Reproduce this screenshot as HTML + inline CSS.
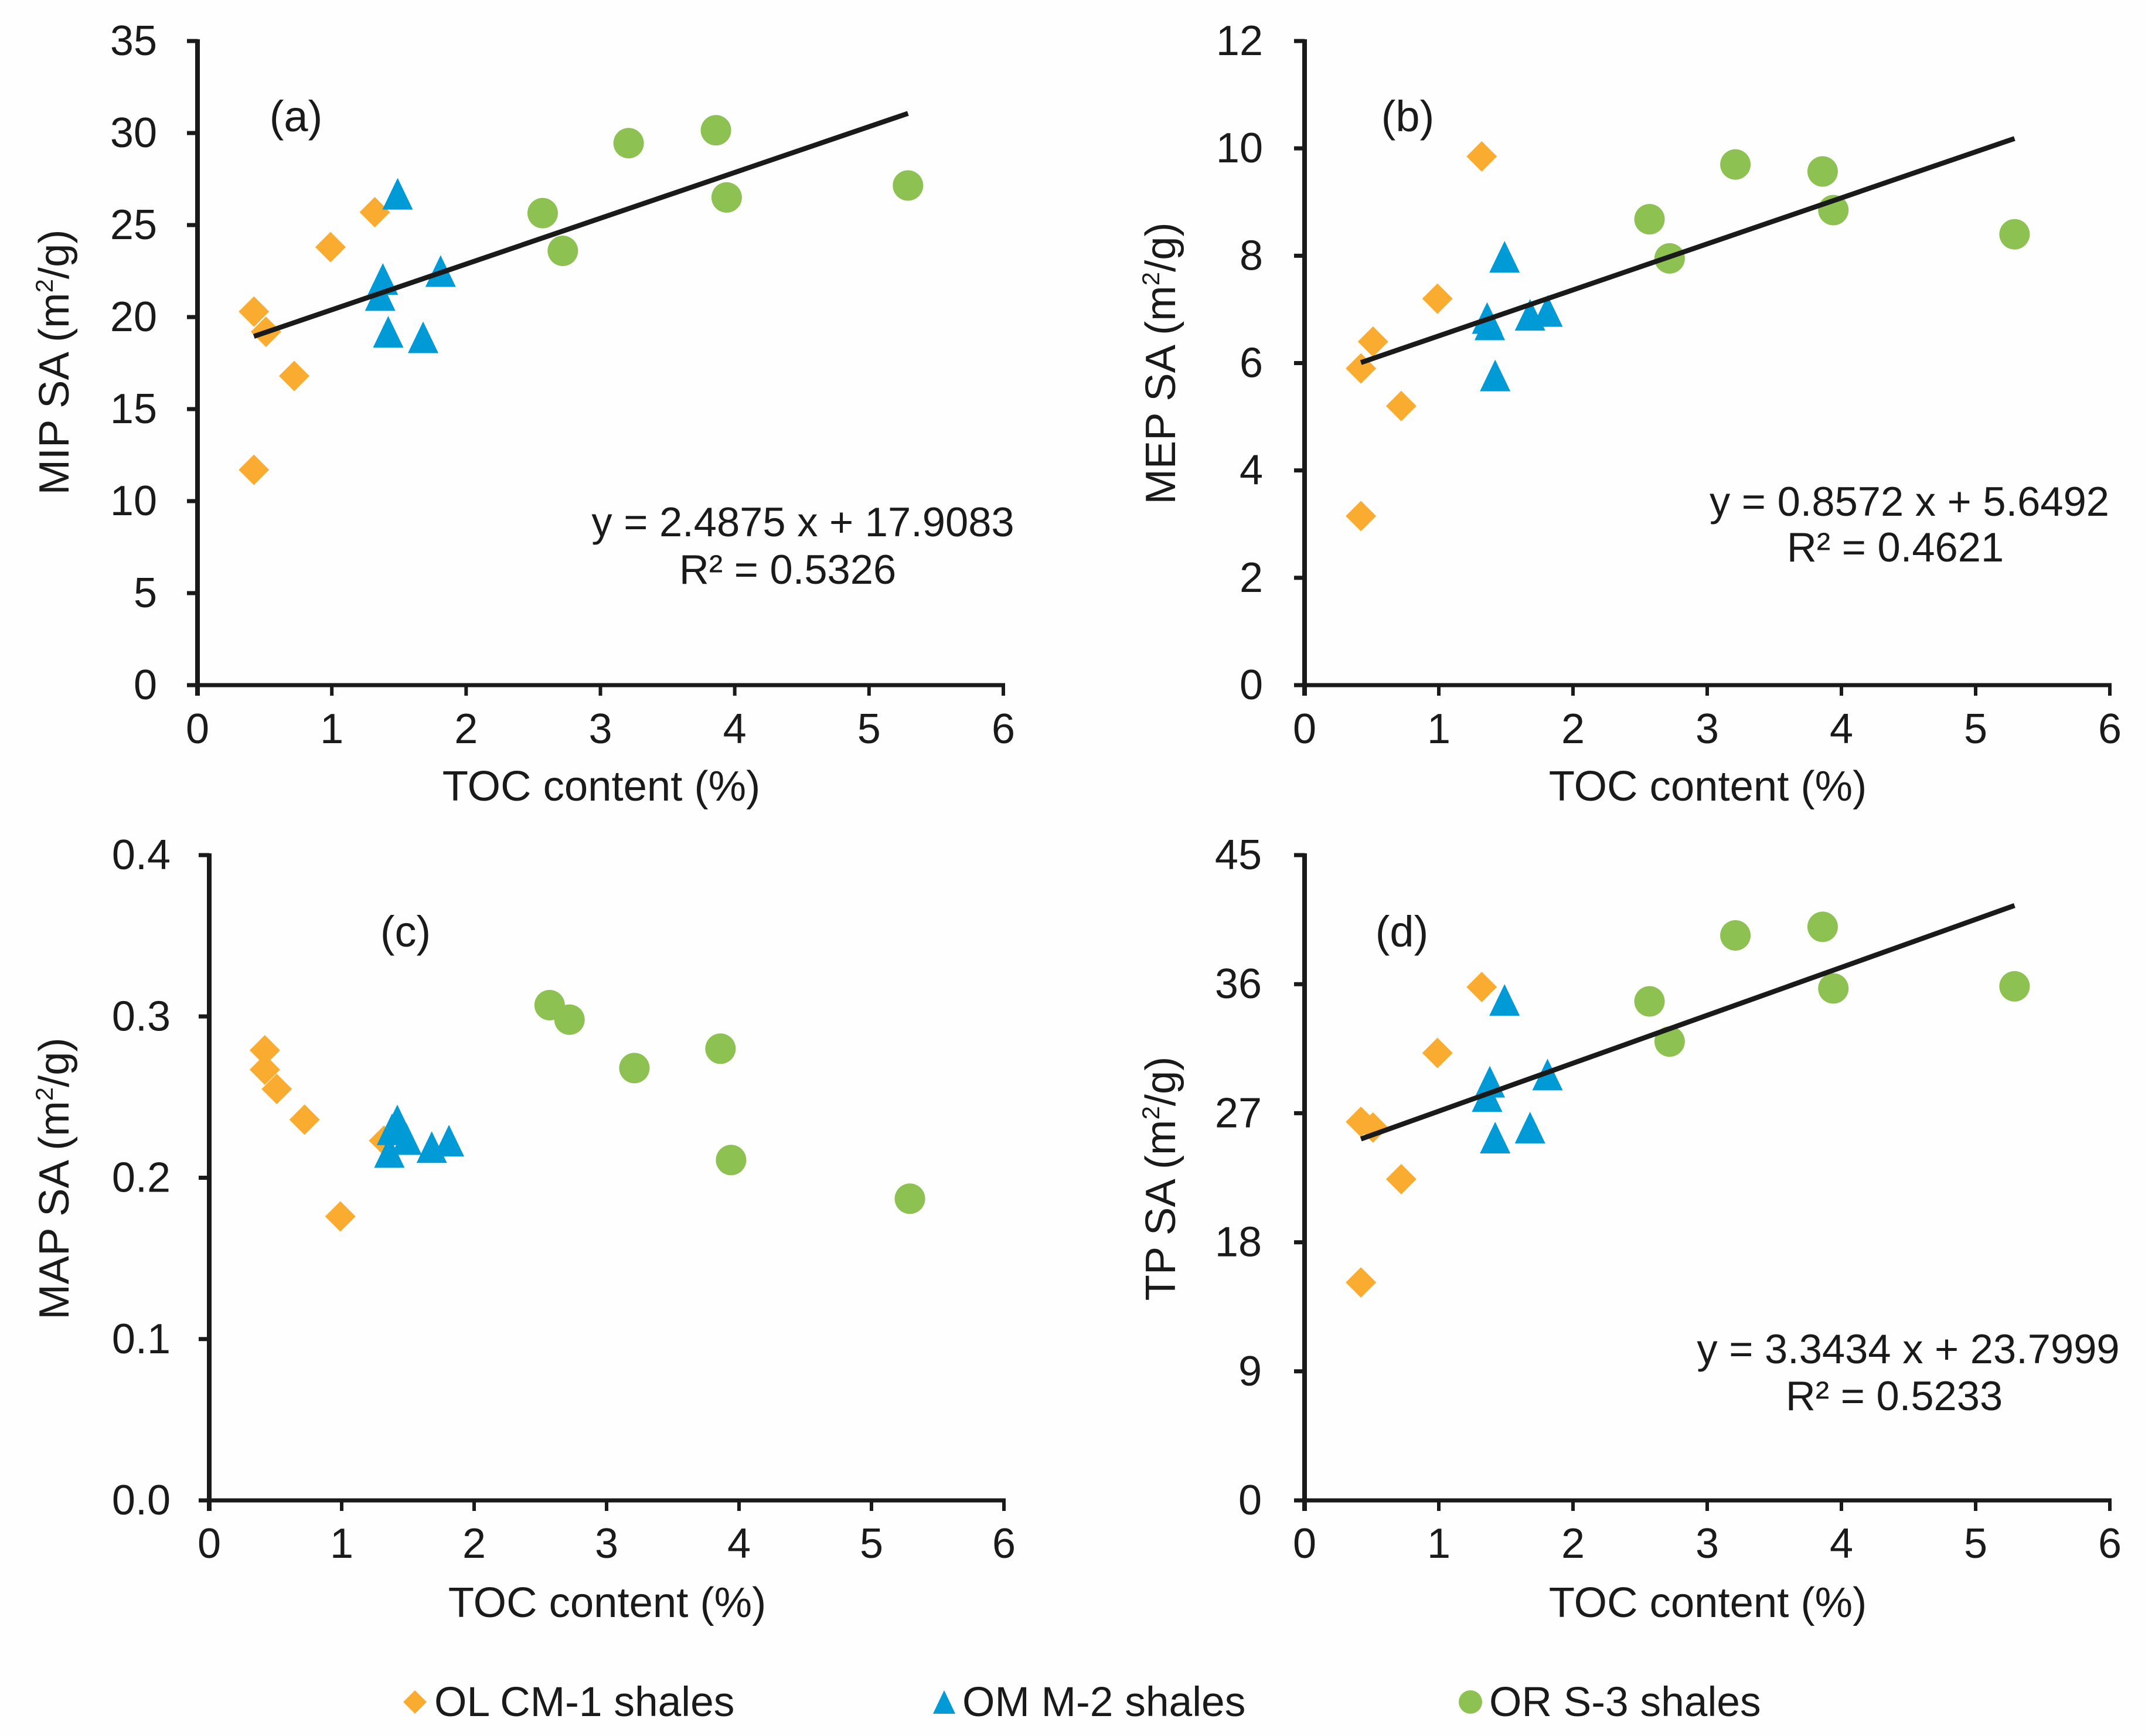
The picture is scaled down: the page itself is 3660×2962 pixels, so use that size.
<!DOCTYPE html>
<html lang="en">
<head>
<meta charset="utf-8">
<title>Surface area versus TOC content</title>
<style>
html,body{margin:0;padding:0;background:#fefefe;}
svg{display:block;}
text{font-family:"Liberation Sans",Arial,sans-serif;fill:#1a1a1a;font-size:70.5px;}
text.tick{font-size:72px;}
text.title{font-size:72.5px;}
text.letter{font-size:74px;}
text.legend{font-size:71.3px;}
</style>
</head>
<body>
<svg id="chart" xmlns="http://www.w3.org/2000/svg" width="3660" height="2962" viewBox="0 0 3660 2962">
<rect x="0" y="0" width="3660" height="2962" fill="#fefefe"/>
</svg>
<script>
// TOC values (%) shared by all panels
const tocOrange = [0.42, 0.42, 0.51, 0.72, 0.99, 1.32];
const tocBlue = [1.36, 1.38, 1.42, 1.49, 1.68, 1.81];
const tocGreen = [2.57, 2.72, 3.21, 3.86, 3.94, 5.29];

// Panel (a) MIP SA
const mipOrange = [20.3, 11.7, 19.2, 16.8, 23.8, 25.7];
const mipBlue = [21.2, 22.07, 19.2, 26.7, 18.9, 22.5];
const mipGreen = [25.65, 23.6, 29.45, 30.15, 26.5, 27.15];
const mipTicks = ['0', '5', '10', '15', '20', '25', '30', '35'];
const mipFit = [2.4875, 17.9083];

// Panel (b) MEP SA
const mepOrange = [5.9, 3.15, 6.4, 5.2, 7.2, 9.85];
const mepBlue = [6.84, 6.72, 5.77, 7.98, 6.9, 6.97];
const mepGreen = [8.68, 7.95, 9.7, 9.57, 8.85, 8.4];
const mepTicks = ['0', '2', '4', '6', '8', '10', '12'];
const mepFit = [0.8572, 5.6492];

// Panel (c) MAP SA
const mapOrange = [0.279, 0.267, 0.255, 0.236, 0.176, 0.223];
const mapBlue = [0.216, 0.23, 0.2355, 0.224, 0.219, 0.223];
const mapGreen = [0.307, 0.298, 0.268, 0.28, 0.211, 0.187];
const mapTicks = ['0.0', '0.1', '0.2', '0.3', '0.4'];

// Panel (d) TP SA
const tpOrange = [26.4, 15.2, 26, 22.4, 31.2, 35.8];
const tpBlue = [28.2, 29.2, 25.3, 34.9, 26, 29.7];
const tpGreen = [34.8, 32, 39.4, 40, 35.7, 35.85];
const tpTicks = ['0', '9', '18', '27', '36', '45'];
const tpFit = [3.3434, 23.7999];

const xTicks = ['0', '1', '2', '3', '4', '5', '6'];

const NS = 'http://www.w3.org/2000/svg';
const svg = document.getElementById('chart');
const ORANGE = '#f9ac2f', BLUE = '#009ad6', GREEN = '#8dc152', INK = '#1a1a1a';

function mk(tag, parent) {
  const el = document.createElementNS(NS, tag);
  parent.appendChild(el);
  return el;
}
function setAll(el, attrs) {
  for (const k in attrs) el.setAttribute(k, attrs[k]);
}
function addText(parent, str, x, y, anchor, cls) {
  const t = mk('text', parent);
  setAll(t, {x: x, y: y, 'text-anchor': anchor || 'middle'});
  if (cls) t.setAttribute('class', cls);
  t.textContent = str;
  return t;
}
function seg(parent, x1, y1, x2, y2, w) {
  const l = mk('line', parent);
  setAll(l, {x1: x1, y1: y1, x2: x2, y2: y2, stroke: INK, 'stroke-width': w});
  return l;
}
function diamond(parent, cx, cy, r) {
  const p = mk('polygon', parent);
  setAll(p, {points: [cx, cy - r, cx + r, cy, cx, cy + r, cx - r, cy].join(' '), fill: ORANGE});
  return p;
}
function triangle(parent, cx, cy, w, h) {
  const p = mk('polygon', parent);
  setAll(p, {points: [cx, cy - h / 2, cx + w / 2, cy + h / 2, cx - w / 2, cy + h / 2].join(' '), fill: BLUE});
  return p;
}
function circle(parent, cx, cy, r) {
  const c = mk('circle', parent);
  setAll(c, {cx: cx, cy: cy, r: r, fill: GREEN});
  return c;
}

function drawPanel(o) {
  const g = mk('g', svg);
  
  
  const yMax = o.yMax;
  const sx = v => o.x0 + (v / 6) * (o.x6 - o.x0);
  const sy = v => o.y0 - (v / yMax) * (o.y0 - o.yTop);

  // axes
  const yAxis = seg(g, o.x0, o.yTop - 3, o.x0, o.y0 + 18, 8);
  
  
  const xAxis = seg(g, o.x0 - 18, o.y0, o.x6 + 3, o.y0, 7);
  
  

  // y ticks
  o.yTicks.forEach(label => {
    const v = parseFloat(label);
    const tk = seg(g, o.x0 - 18, sy(v), o.x0, sy(v), 7);
    
    
    const tl = addText(g, label, o.yLabelEnd, sy(v) + 24, 'end', 'tick');
    
    
  });

  // x ticks
  xTicks.forEach(label => {
    const v = parseFloat(label);
    const tk = seg(g, sx(v), o.y0, sx(v), o.y0 + 18, 6);
    
    
    const tl = addText(g, label, sx(v), o.xLabelBase, 'middle', 'tick');
    
    
  });

  // x axis title
  const xt = addText(g, 'TOC content (%)', o.xTitleX, o.xTitleBase + 2, 'middle', 'title');
  
  

  // y axis title with superscript
  const yt = mk('text', g);
  setAll(yt, {transform: 'translate(' + o.yTitleX + ' ' + o.yTitleY + ') rotate(-90)', 'text-anchor': 'middle', x: 0, y: 0, 'class': 'title'});
  
  
  const a = mk('tspan', yt); a.textContent = o.yTitle + ' (m';
  const b = mk('tspan', yt); setAll(b, {dy: -27, 'font-size': 42}); b.textContent = '2';
  const c = mk('tspan', yt); setAll(c, {dy: 27}); c.textContent = '/g)';

  // panel letter
  const pl = addText(g, o.letter, o.letterX, o.letterBase + 1, 'middle', 'letter');
  
  

  // points
  tocOrange.forEach((x, i) => {
    const m = diamond(g, sx(x), sy(o.orange[i]), 26);
    
    
  });
  tocBlue.forEach((x, i) => {
    const m = triangle(g, sx(x), sy(o.blue[i]), 52, 54);
    
    
  });
  tocGreen.forEach((x, i) => {
    const m = circle(g, sx(x), sy(o.green[i]), 26);
    
    
  });

  // trend line and equation
  if (o.fit) {
    const x1 = tocOrange[0], x2 = tocGreen[5];
    const tl = seg(g, sx(x1), sy(o.fit[0] * x1 + o.fit[1]), sx(x2), sy(o.fit[0] * x2 + o.fit[1]), 8.5);
    
    
    const eq = addText(g, o.eq, o.eqX, o.eqBase);
    
    
    const r2 = addText(g, o.r2, o.r2X, o.r2Base);
    
    
  }
}

drawPanel({name: 'panel-a-mip', x0: 337, x6: 1712, y0: 1169, yTop: 70, yMax: 35, yTicks: mipTicks,
  orange: mipOrange, blue: mipBlue, green: mipGreen, fit: mipFit,
  yLabelEnd: 268, xLabelBase: 1268, xTitleX: 1026, xTitleBase: 1364,
  yTitle: 'MIP SA', yTitleX: 117, yTitleY: 618, letter: '(a)', letterX: 505, letterBase: 223,
  eq: 'y = 2.4875 x + 17.9083', eqX: 1370, eqBase: 915, r2: 'R² = 0.5326', r2X: 1344, r2Base: 996});

drawPanel({name: 'panel-b-mep', x0: 2226, x6: 3600, y0: 1169, yTop: 70, yMax: 12, yTicks: mepTicks,
  orange: mepOrange, blue: mepBlue, green: mepGreen, fit: mepFit,
  yLabelEnd: 2155, xLabelBase: 1268, xTitleX: 2914, xTitleBase: 1364,
  yTitle: 'MEP SA', yTitleX: 2005, yTitleY: 620, letter: '(b)', letterX: 2402, letterBase: 223,
  eq: 'y = 0.8572 x + 5.6492', eqX: 3258, eqBase: 880, r2: 'R² = 0.4621', r2X: 3234, r2Base: 958});

drawPanel({name: 'panel-c-map', x0: 357, x6: 1713, y0: 2560, yTop: 1459, yMax: 0.4, yTicks: mapTicks,
  orange: mapOrange, blue: mapBlue, green: mapGreen, fit: null,
  yLabelEnd: 291, xLabelBase: 2658, xTitleX: 1036, xTitleBase: 2757,
  yTitle: 'MAP SA', yTitleX: 117, yTitleY: 2011, letter: '(c)', letterX: 692, letterBase: 1614});

drawPanel({name: 'panel-d-tp', x0: 2226, x6: 3600, y0: 2560, yTop: 1459, yMax: 45, yTicks: tpTicks,
  orange: tpOrange, blue: tpBlue, green: tpGreen, fit: tpFit,
  yLabelEnd: 2153, xLabelBase: 2658, xTitleX: 2914, xTitleBase: 2757,
  yTitle: 'TP SA', yTitleX: 2005, yTitleY: 2011, letter: '(d)', letterX: 2392, letterBase: 1614,
  eq: 'y = 3.3434 x + 23.7999', eqX: 3256, eqBase: 2326, r2: 'R² = 0.5233', r2X: 3232, r2Base: 2406});

// legend
const lg = mk('g', svg);


const lm1 = diamond(lg, 708, 2904, 20);


const lt1 = addText(lg, 'OL CM-1 shales', 741, 2928, 'start', 'legend');


const lm2 = triangle(lg, 1611, 2904, 38, 40);


const lt2 = addText(lg, 'OM M-2 shales', 1642, 2928, 'start', 'legend');


const lm3 = circle(lg, 2509, 2904, 20);


const lt3 = addText(lg, 'OR S-3 shales', 2541, 2928, 'start', 'legend');


</script>
</body>
</html>
